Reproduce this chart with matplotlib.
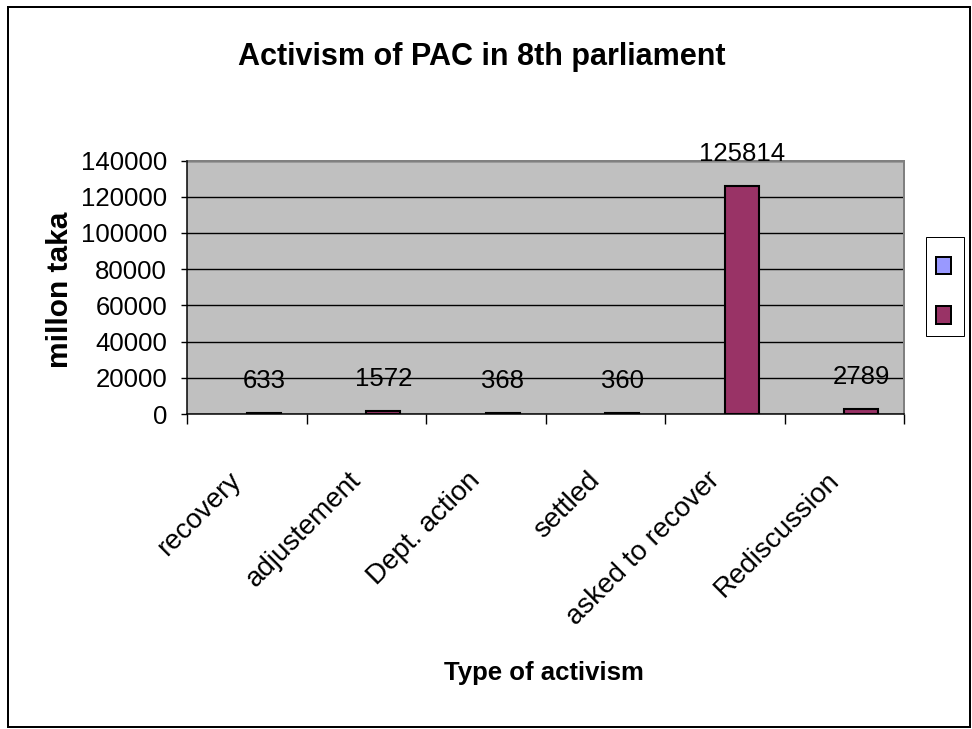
import matplotlib
matplotlib.use("Agg")
import matplotlib.pyplot as plt
from matplotlib.patches import Rectangle
import numpy as np

plt.rcParams['font.family'] = ['Liberation Sans', 'DejaVu Sans']

categories = ["recovery", "adjustement", "Dept. action", "settled",
              "asked to recover", "Rediscussion"]
series_a = [0, 0, 0, 0, 0, 0]
series_b = [633, 1572, 368, 360, 125814, 2789]
y_ticks = [0, 20000, 40000, 60000, 80000, 100000, 120000, 140000]

color_a = "#9999FF"
color_b = "#993366"
plot_bg = "#C0C0C0"

W, H = 972, 729
fig = plt.figure(figsize=(W / 100, H / 100), dpi=100)
PX = 72 / 100  # points per pixel


def fx(px):
    return px / W


def fy(py):
    return 1 - py / H


left, right, top, bottom = 187, 904, 160.5, 414
ax = fig.add_axes([fx(left), fy(bottom), fx(right - left), (bottom - top) / H])
ax.set_facecolor(plot_bg)

x = np.arange(len(categories))
bw = 0.285
edges_a = ["black" if v else "none" for v in series_a]
ax.bar(x - bw / 2, series_a, width=bw, color=color_a, edgecolor=edges_a,
       linewidth=1.5, zorder=3)
ax.bar(x + bw / 2, series_b, width=bw, color=color_b, edgecolor="black",
       linewidth=1.5, zorder=3)

for xi, v in zip(x, series_b):
    ax.annotate(str(v), xy=(xi + bw / 2, v), xytext=(0, 25),
                textcoords="offset pixels", ha="center", va="baseline",
                fontsize=18.5, color="black", zorder=5, annotation_clip=False)

ax.set_xlim(-0.5, len(categories) - 0.5)
ax.set_ylim(0, 140000)
ax.set_yticks(y_ticks)
ax.set_yticklabels([str(t) for t in y_ticks], fontsize=18.5)
ax.yaxis.grid(True, color="black", linewidth=1.0, zorder=1)
ax.set_axisbelow(True)

ax.set_xticks(np.arange(-0.5, len(categories), 1.0))
ax.set_xticklabels([])
ax.set_xticks(x, minor=True)
ax.set_xticklabels(categories, minor=True, rotation=45, ha="right",
                   va="top", fontsize=20)
ax.tick_params(axis="x", which="major", direction="out", length=10 * PX,
               width=1, color="black")
ax.tick_params(axis="x", which="minor", length=0, pad=53 * PX)
ax.tick_params(axis="y", direction="out", length=6 * PX, width=1,
               pad=14 * PX, color="black")

for s in ("top", "right"):
    ax.spines[s].set_color("#808080")
    ax.spines[s].set_linewidth(2 * PX)
for s in ("left", "bottom"):
    ax.spines[s].set_color("black")
    ax.spines[s].set_linewidth(1.5 * PX)
    ax.spines[s].set_zorder(4)

fig.text(fx(482), fy(65), "Activism of PAC in 8th parliament", ha="center",
         va="baseline", fontsize=22, fontweight="bold")
fig.text(fx(544), fy(680), "Type of activism", ha="center", va="baseline",
         fontsize=18.5, fontweight="bold")
fig.text(fx(60), fy(290), "millon taka", ha="center", va="center",
         rotation=90, fontsize=21.5, fontweight="bold")

# legend box with colour keys only
fig.add_artist(Rectangle((fx(926), fy(336)), fx(964 - 926), (336 - 237) / H,
                         transform=fig.transFigure, facecolor="white",
                         edgecolor="black", linewidth=1 * PX))
for col, (y0, y1) in zip([color_a, color_b], [(257, 274), (306, 324)]):
    fig.add_artist(Rectangle((fx(936), fy(y1)), fx(15), (y1 - y0) / H,
                             transform=fig.transFigure, facecolor=col,
                             edgecolor="black", linewidth=2 * PX))

# outer chart frame
fig.add_artist(Rectangle((fx(8), fy(727)), fx(970 - 8), (727 - 7) / H,
                         transform=fig.transFigure, facecolor="none",
                         edgecolor="black", linewidth=2 * PX))

fig.savefig("out.png", dpi=100, facecolor="white")
